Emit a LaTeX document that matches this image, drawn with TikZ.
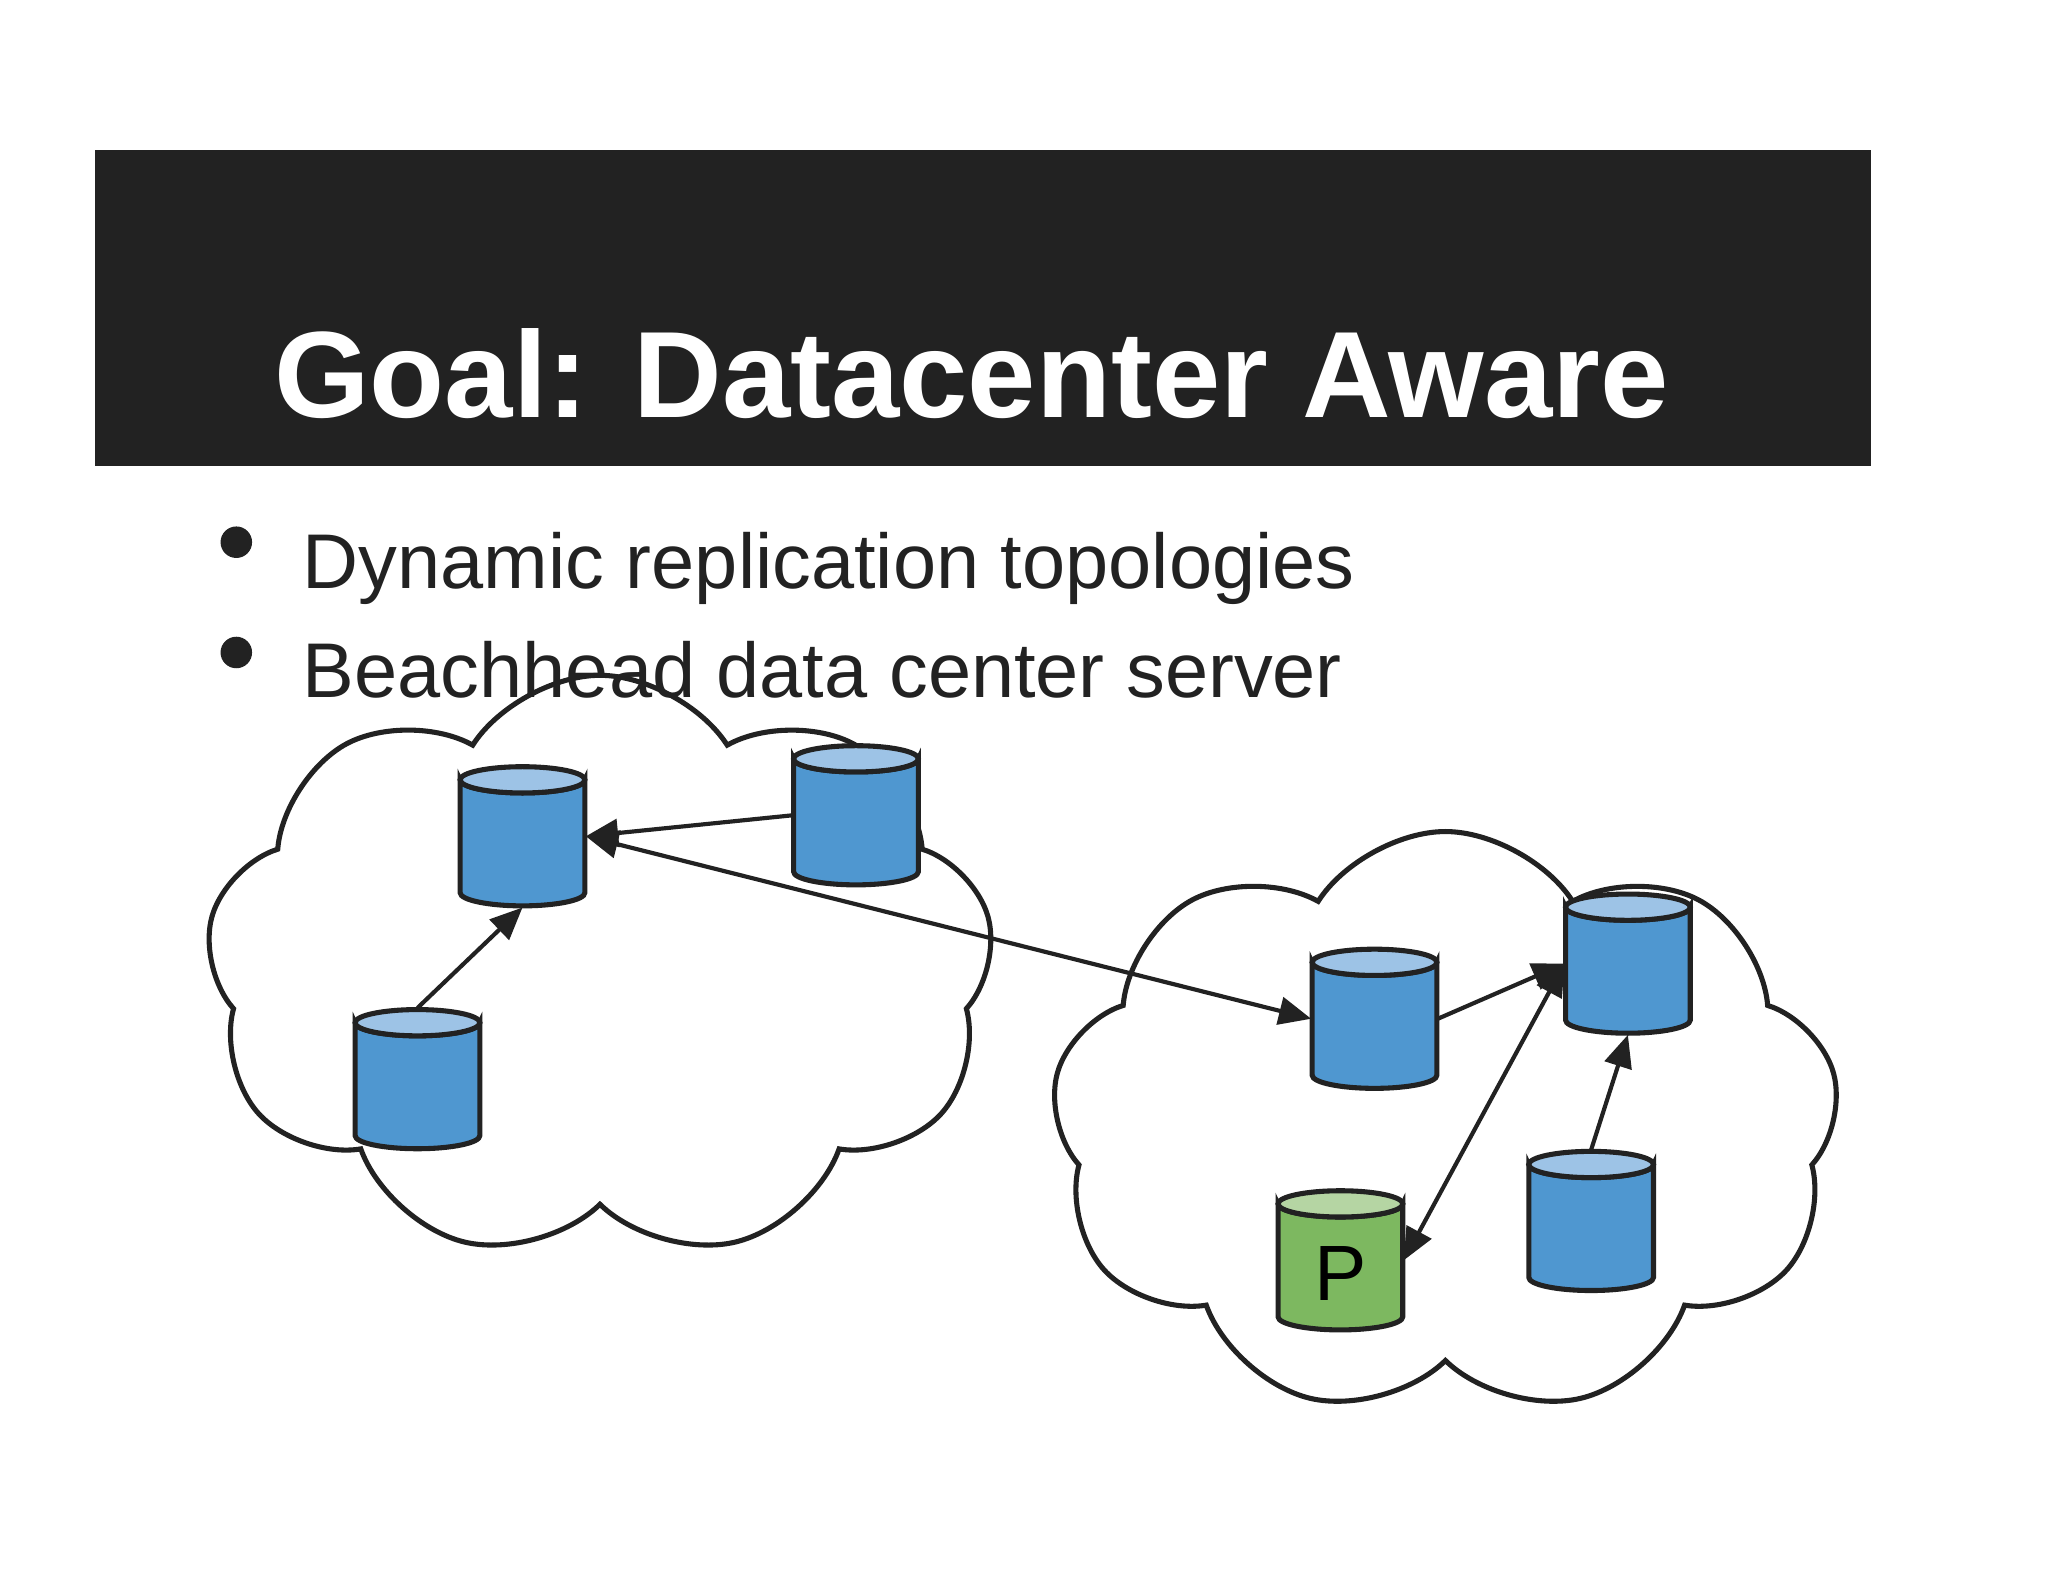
\documentclass[tikz,border=0pt]{standalone}
\usepackage{fontspec}
\setmainfont{Liberation Sans}
\usetikzlibrary{shapes.geometric,shapes.symbols,arrows.meta}
\definecolor{hdr}{HTML}{222222}
\definecolor{cbody}{HTML}{4F97D0}
\definecolor{ctop}{HTML}{9DC3E6}
\definecolor{gbody}{HTML}{7DB860}
\definecolor{gtop}{HTML}{B5D5A3}
\definecolor{ink}{HTML}{222222}
\newcommand\mydb[6]{%
 \node[box,#6] (#1) at (#2,#3) {};
 \path[fill=#4,draw=ink,line width=1.1pt] (#2-47.5,#3-43) -- (#2-47.5,#3+43) arc[start angle=180,end angle=0,x radius=47.5,y radius=10] -- (#2+47.5,#3-43) arc[start angle=0,end angle=180,x radius=47.5,y radius=10] -- cycle;
 \path[fill=#5,draw=ink,line width=1.1pt] (#2,#3-43) ellipse[x radius=47.5,y radius=10];
}
\begin{document}
\begin{tikzpicture}[x=0.01cm,y=-0.01cm,
 box/.style={rectangle,minimum width=0.95cm,minimum height=1.07cm,inner sep=0pt},
 cl/.style={cloud,cloud puffs=9,cloud puff arc=115,draw=ink,line width=1.1pt,aspect=1.35},
 ar/.style={-{Triangle[length=7pt,width=6pt]},draw=ink,line width=0.9pt},
 br/.style={{Triangle[length=7pt,width=6pt]}-{Triangle[length=7pt,width=6pt]},draw=ink,line width=0.9pt}]
\useasboundingbox (0,0) rectangle (1560,1205);
\fill[white] (0,0) rectangle (1560,1205);
\fill[hdr] (72,114) rectangle (1425,355);
\node[text=white,font=\fontsize{26.6}{30}\selectfont\bfseries,anchor=base] (title) at (740,318) {Goal: Datacenter Aware};
\node[cl,minimum width=6.0cm,minimum height=4.45cm] (c1) at (457,737) {};
\node[cl,minimum width=6.0cm,minimum height=4.45cm] (c2) at (1101,856) {};
\node[circle,fill=ink,minimum size=0.24cm,inner sep=0pt] (b1) at (180,413) {};
\node[circle,fill=ink,minimum size=0.24cm,inner sep=0pt] (b2) at (180,497) {};
\node[anchor=base west,inner sep=0pt,text=ink,font=\fontsize{16.8}{20}\selectfont] (t1) at (230,448) {Dynamic replication topologies};
\node[anchor=base west,inner sep=0pt,text=ink,font=\fontsize{16.8}{20}\selectfont] (t2) at (230,531) {Beachhead data center server};
\mydb{A}{398}{637}{cbody}{ctop}{}
\mydb{B}{652}{621}{cbody}{ctop}{}
\mydb{C}{318}{822}{cbody}{ctop}{}
\mydb{D}{1047}{776}{cbody}{ctop}{}
\mydb{E}{1240}{734}{cbody}{ctop}{}
\mydb{F}{1212}{930}{cbody}{ctop}{}
\mydb{P}{1021}{960}{gbody}{gtop}{}
\node[font=\fontsize{17}{18}\selectfont,text=black] (Pt) at (1021,970) {P};
\draw[ar] (B.west) -- (A.east);
\draw[ar] (C.north) -- (A.south);
\draw[br] (A.east) -- (D.west);
\draw[ar] (D.east) -- (E.west);
\draw[br] (P.east) -- (E.west);
\draw[ar] (F.north) -- (E.south);
\end{tikzpicture}
\end{document}
